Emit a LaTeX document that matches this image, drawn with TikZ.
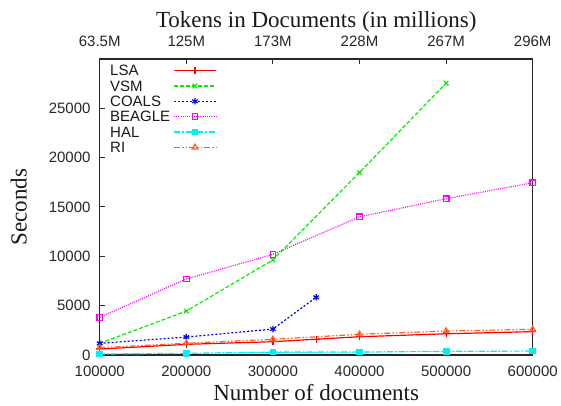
\documentclass[tikz,border=0pt]{standalone}
\usepackage{fontspec}
\setmainfont{Liberation Serif}
\newfontfamily\ticksfont{Liberation Sans}
\usetikzlibrary{plotmarks}
\definecolor{lsacol}{RGB}{255,0,0}
\definecolor{vsmcol}{RGB}{0,240,0}
\definecolor{coalscol}{RGB}{0,0,255}
\definecolor{beaglecol}{RGB}{255,0,255}
\definecolor{halcol}{RGB}{0,240,240}
\definecolor{ricol}{RGB}{255,96,32}
\definecolor{bordercol}{RGB}{40,40,40}
\tikzset{
  frameline/.style={bordercol, line width=1.3pt},
  tickline/.style={bordercol, line width=1pt},
  ticklabel/.style={font=\ticksfont\fontsize{15}{18}\selectfont, inner sep=0pt, text=black!85},
  axislabel/.style={font=\fontsize{23}{27}\selectfont, inner sep=0pt, text=black!90},
  legendtext/.style={font=\ticksfont\fontsize{15}{18}\selectfont, inner sep=0pt, anchor=west, text=black!90},
  dataline/.style={line width=1.2pt, mark options={solid}},
  lsaline/.style={dataline, draw=lsacol, mark=+, mark size=3.5pt},
  vsmline/.style={dataline, draw=vsmcol, dash pattern=on 4pt off 2pt, mark=x, mark size=3.2pt},
  coalsline/.style={dataline, draw=coalscol, dash pattern=on 2pt off 2pt, mark=asterisk, mark size=3.2pt},
  beagleline/.style={dataline, draw=beaglecol, dash pattern=on 1pt off 1.2pt, mark=square, mark size=2.8pt},
  halline/.style={dataline, draw=halcol, fill=halcol, dash pattern=on 6pt off 2pt on 1.5pt off 2pt, mark=square*, mark size=2.8pt},
  riline/.style={dataline, draw=ricol, dash pattern=on 6pt off 2pt on 1.5pt off 2pt on 1.5pt off 2pt, mark=triangle, mark size=3.2pt},
}
\begin{document}
\begin{tikzpicture}[x=1pt,y=1pt]
\useasboundingbox (0,0) rectangle (561,-406);
\begin{scope}[shift={(13.1pt,-355pt)}, x=0.866pt, y=9.867pt]
  % frame
  \draw[frameline] (100,0) rectangle (600,30);
  % y ticks and labels
  \foreach \v/\lab in {0/0,5/5000,10/10000,15/15000,20/20000,25/25000}{
    \draw[tickline] (100,\v) -- ++(5pt,0);
    \node[ticklabel, anchor=east, xshift=-9pt] (yl\v) at (100,\v) {\lab};
  }
  % x ticks and labels (bottom and top)
  \foreach \n/\top in {100/63.5M,200/125M,300/173M,400/228M,500/267M,600/296M}{
    \draw[tickline] (\n,0) -- ++(0,5pt);
    \draw[tickline] (\n,30) -- ++(0,-5pt);
    \node[ticklabel, yshift=-16pt] (xl\n) at (\n,0) {\n000};
    \node[ticklabel, yshift=17.5pt] (tl\n) at (\n,30) {\top};
  }
  % data
  \draw[lsaline] plot coordinates {(100,0.6) (200,1.08) (300,1.35) (350,1.6) (400,1.85) (500,2.15) (600,2.37)};
  \draw[vsmline] plot coordinates {(100,1.18) (200,4.45) (300,9.63) (400,18.5) (500,27.55)};
  \draw[coalsline] plot coordinates {(100,1.18) (200,1.82) (300,2.63) (350,5.85)};
  \draw[beagleline] plot coordinates {(100,3.82) (200,7.7) (300,10.2) (400,14.0) (500,15.84) (600,17.46)};
  \draw[halline] plot coordinates {(100,0.1) (200,0.17) (300,0.3) (400,0.3) (500,0.37) (600,0.4)};
  \draw[riline] plot coordinates {(100,0.74) (200,1.19) (300,1.59) (400,2.1) (500,2.43) (600,2.6)};
\end{scope}
% legend
\foreach \name/\sty/\yy in {LSA/lsaline/70.7, VSM/vsmline/86, COALS/coalsline/101.3, BEAGLE/beagleline/116.7, HAL/halline/132, RI/riline/147.3}{
  \node[legendtext] (leg\name) at (110,-\yy) {\name};
  \draw[\sty] (174,-\yy) -- (216,-\yy);
  \draw[\sty] plot coordinates {(195,-\yy)};
}
% axis labels
\node[axislabel, anchor=base] (title) at (316.2,-28) {Tokens in Documents (in millions)};
\node[axislabel, anchor=base] (xlabel) at (316.2,-400) {Number of documents};
\node[axislabel, anchor=base, rotate=90] (ylabel) at (26.7,-207) {Seconds};
\end{tikzpicture}
\end{document}
